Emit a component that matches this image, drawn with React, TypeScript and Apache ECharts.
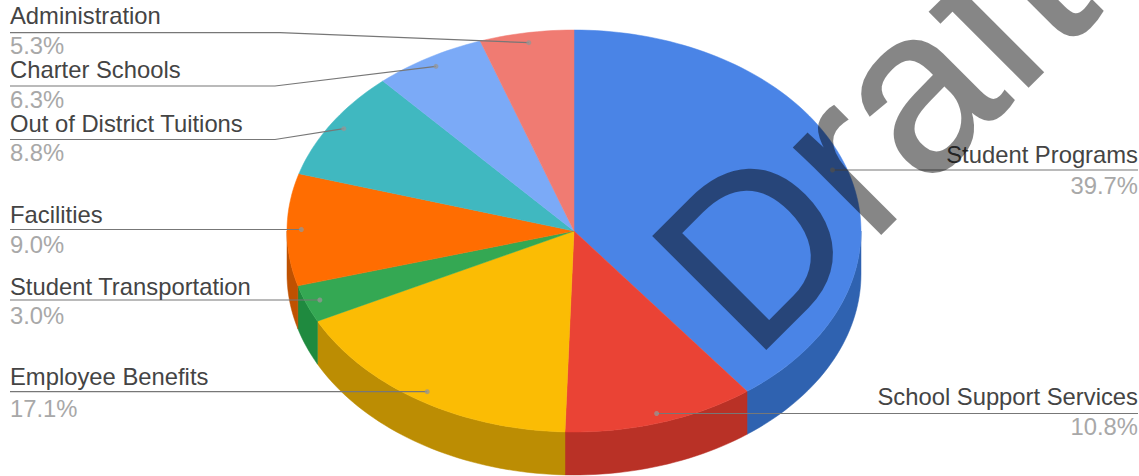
import React, { useEffect, useRef } from "react";
import * as echarts from "echarts";

const categories = [
  "Student Programs",
  "School Support Services",
  "Employee Benefits",
  "Student Transportation",
  "Facilities",
  "Out of District Tuitions",
  "Charter Schools",
  "Administration",
];
const shares = [39.7, 10.8, 17.1, 3.0, 9.0, 8.8, 6.3, 5.3];
const topColors = ["#4a84e6", "#ea4335", "#fbbc04", "#34a853", "#ff6d01", "#40b8c0", "#7baaf7", "#f07b72"];
const sideColors = ["#2f62b0", "#b93126", "#bc8d03", "#1f8a3f", "#bf5101", "#348e95", "#5c80b9", "#b45c56"];

// label layout
const labelOnRight = [true, true, false, false, false, false, false, false];
const lineYs = [170, 413.5, 391.7, 300, 229.5, 139.5, 86, 32.7];
const nameBaselines = [162, 404, 384, 294, 221.7, 131, 77, 23];
const pctBaselines = [193, 434, 416, 323, 252, 160, 107, 53];
const bendXs = [0, 0, 0, 0, 0, 275, 275, 280];

const CX = 574;
const CY = 231;
const RX = 287;
const RY = 201;
const DEPTH = 43;
const LEADER_FRACTION = 0.95;
const FONT = '23.8px "Liberation Sans", Arial, sans-serif';
const DESCENT = 4.5;

const total = shares.reduce((a, b) => a + b, 0);
let running = 0;
const sliceRows = shares.map((v, i) => {
  const start = (running / total) * 360;
  running += v;
  const end = (running / total) * 360;
  return [start, end, i];
});

const pt = (deg: number, f = 1, dy = 0): number[] => {
  const a = (deg * Math.PI) / 180;
  return [CX + RX * f * Math.sin(a), CY - RY * f * Math.cos(a) + dy];
};

const arc = (from: number, to: number, dy = 0): number[][] => {
  const n = Math.max(2, Math.ceil(Math.abs(to - from) / 1.5));
  const out: number[][] = [];
  for (let i = 0; i <= n; i++) out.push(pt(from + ((to - from) * i) / n, 1, dy));
  return out;
};

const renderSlice = (_: any, api: any) => {
  const start = api.value(0);
  const end = api.value(1);
  const i = api.value(2);
  const children: any[] = [];
  const s = Math.max(start, 90);
  const e = Math.min(end, 270);
  if (e > s) {
    children.push({
      type: "polygon",
      shape: { points: [...arc(s, e), ...arc(e, s, DEPTH)] },
      style: { fill: sideColors[i], stroke: sideColors[i], lineWidth: 0.5 },
    });
  }
  children.push({
    type: "polygon",
    shape: { points: [[CX, CY], ...arc(start, end)] },
    style: { fill: topColors[i], stroke: topColors[i], lineWidth: 0.5 },
  });
  return { type: "group", children };
};

const renderLabel = (_: any, api: any) => {
  const start = api.value(0);
  const end = api.value(1);
  const i = api.value(2);
  const target = pt((start + end) / 2, LEADER_FRACTION);
  const right = labelOnRight[i];
  const edge = right ? 1138 : 10;
  const y = lineYs[i];
  const points = bendXs[i] ? [[edge, y], [bendXs[i], y], target] : [[edge, y], [target[0], y]];
  const align = right ? "right" : "left";
  return {
    type: "group",
    children: [
      { type: "polyline", shape: { points }, style: { fill: "none", stroke: "#777777", lineWidth: 1.2 } },
      { type: "circle", shape: { cx: target[0], cy: bendXs[i] ? target[1] : y, r: 2.5 }, style: { fill: "rgba(150,150,150,0.75)" } },
      {
        type: "text",
        style: { text: categories[i], x: edge, y: nameBaselines[i] + DESCENT, align, verticalAlign: "bottom", font: FONT, fill: "#444444" },
      },
      {
        type: "text",
        style: { text: shares[i].toFixed(1) + "%", x: edge, y: pctBaselines[i] + DESCENT, align, verticalAlign: "bottom", font: FONT, fill: "#a8a8a8" },
      },
    ],
  };
};

export default function App() {
  const ref = useRef<HTMLDivElement>(null);
  useEffect(() => {
    document.body.style.margin = "0";
    const chart = echarts.init(ref.current!, undefined, { renderer: "svg" });
    chart.setOption({
      animation: false,
      backgroundColor: "#ffffff",
      series: [
        { type: "custom", coordinateSystem: "none", z: 2, data: sliceRows, renderItem: renderSlice, silent: true },
        { type: "custom", coordinateSystem: "none", z: 3, data: sliceRows, renderItem: renderLabel, silent: true },
      ],
      graphic: [
        {
          type: "text",
          x: 743,
          y: 352,
          rotation: Math.PI / 4,
          scaleX: 0.98,
          scaleY: 0.99,
          z: 100,
          silent: true,
          style: {
            text: "Draft",
            x: 0,
            y: 50,
            verticalAlign: "bottom",
            font: '234px "Liberation Sans", Arial, sans-serif',
            fill: "#000000",
            stroke: "#000000",
            lineWidth: 2,
          },
        },
      ],
    });
    // One translucent shape for fill and outline together, as the reference's watermark is.
    const setWatermarkOpacity = () => {
      ref.current?.querySelectorAll("text").forEach((t) => {
        if (t.textContent === "Draft") t.setAttribute("opacity", "0.47");
      });
    };
    setWatermarkOpacity();
    chart.on("finished", setWatermarkOpacity);
    return () => chart.dispose();
  }, []);
  return <div ref={ref} style={{ position: "absolute", left: 0, top: 0, width: 1139, height: 476, overflow: "hidden" }} />;
}
